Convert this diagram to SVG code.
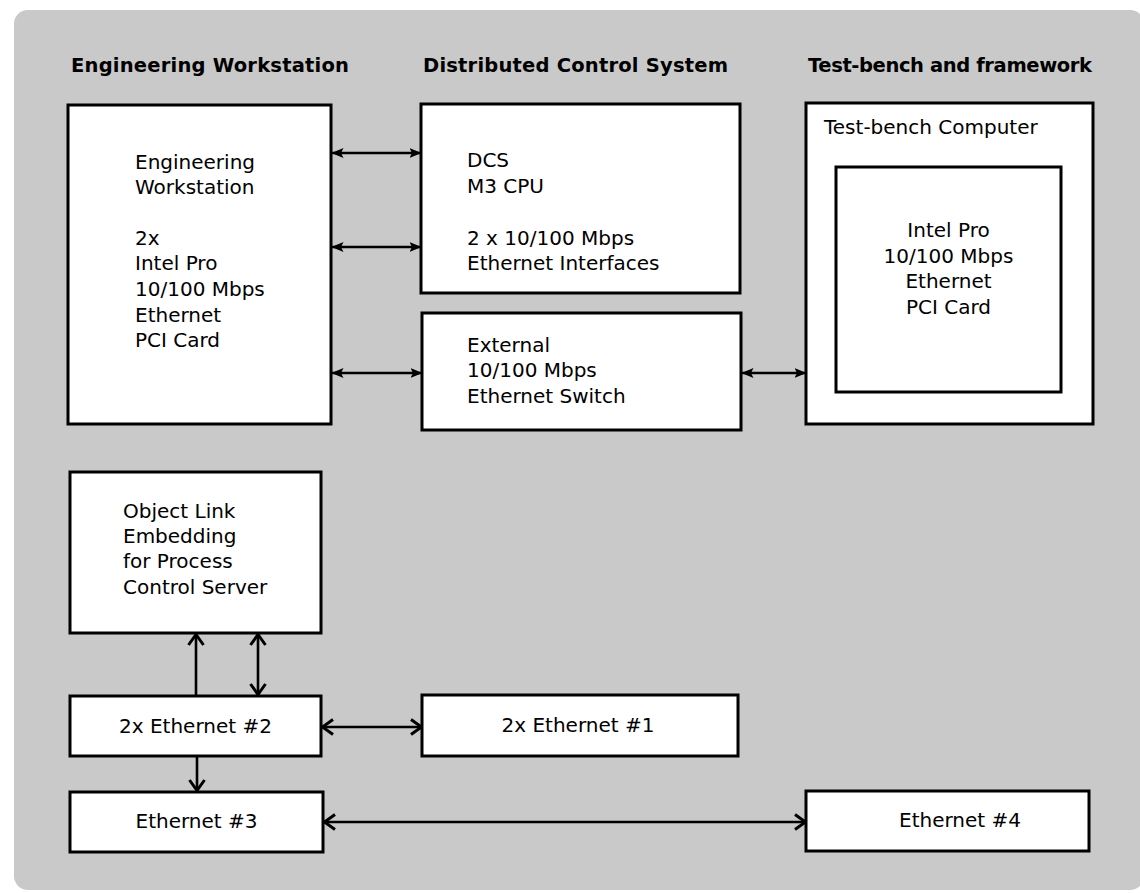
<svg xmlns="http://www.w3.org/2000/svg" width="1140" height="893" viewBox="0 0 1140 893">
<defs>
<style>
.bg{fill:#c9c9c9}
.box{fill:#ffffff;stroke:#000;stroke-width:3}
.hdr{font-family:"DejaVu Sans",Verdana,sans-serif;font-weight:bold;font-size:19.5px;fill:#000}
.t{font-family:"DejaVu Sans",Verdana,sans-serif;font-size:20px;fill:#000}
.c{text-anchor:middle}
.ln{stroke:#000;stroke-width:2.6;fill:none}
.sm{marker-start:url(#ah);marker-end:url(#ah)}
.dv{marker-start:url(#cv);marker-end:url(#cv)}
.ev{marker-end:url(#cv)}
</style>
<marker id="ah" viewBox="0 0 12 12" refX="11.5" refY="6" markerWidth="12" markerHeight="12" markerUnits="userSpaceOnUse" orient="auto-start-reverse">
<path d="M0,1 L12,6 L0,11 L2.5,6 z" fill="#000"/>
</marker>
<marker id="cv" viewBox="0 0 14 18" refX="12.5" refY="9" markerWidth="14" markerHeight="18" markerUnits="userSpaceOnUse" orient="auto-start-reverse">
<path d="M1.5,1.5 L12,9 L1.5,16.5" fill="none" stroke="#000" stroke-width="3"/>
</marker>
</defs>
<rect class="bg" x="14" y="10" width="1130" height="880" rx="14"/>
<g id="headers">
<text class="hdr" x="71" y="72" textLength="278">Engineering Workstation</text>
<text class="hdr" x="423" y="72" textLength="305">Distributed Control System</text>
<text class="hdr" x="808" y="72" textLength="284">Test-bench and framework</text>
</g>
<g id="connectors">
<line class="ln sm" x1="332" y1="153" x2="421" y2="153"/>
<line class="ln sm" x1="332" y1="247" x2="421" y2="247"/>
<line class="ln sm" x1="332" y1="373" x2="422" y2="373"/>
<line class="ln sm" x1="742" y1="373" x2="806" y2="373"/>
<line class="ln ev" x1="196" y1="696" x2="196" y2="634"/>
<line class="ln dv" x1="258" y1="634" x2="258" y2="695"/>
<line class="ln ev" x1="197" y1="756" x2="197" y2="791"/>
<line class="ln dv" x1="322" y1="727" x2="422" y2="727"/>
<line class="ln dv" x1="324" y1="822" x2="806" y2="822"/>
</g>
<g id="engineering-workstation">
<rect class="box" x="68" y="105" width="263" height="319"/>
<text class="t" x="135" y="169">Engineering</text>
<text class="t" x="135" y="194">Workstation</text>
<text class="t" x="135" y="245">2x</text>
<text class="t" x="135" y="270">Intel Pro</text>
<text class="t" x="135" y="296">10/100 Mbps</text>
<text class="t" x="135" y="322">Ethernet</text>
<text class="t" x="135" y="347">PCI Card</text>
</g>
<g id="dcs-cpu">
<rect class="box" x="421" y="104" width="319" height="189"/>
<text class="t" x="467" y="167">DCS</text>
<text class="t" x="467" y="193">M3 CPU</text>
<text class="t" x="467" y="245">2 x 10/100 Mbps</text>
<text class="t" x="467" y="270">Ethernet Interfaces</text>
</g>
<g id="ethernet-switch">
<rect class="box" x="422" y="313" width="319" height="117"/>
<text class="t" x="467" y="352">External</text>
<text class="t" x="467" y="377">10/100 Mbps</text>
<text class="t" x="467" y="403">Ethernet Switch</text>
</g>
<g id="test-bench-computer">
<rect class="box" x="806" y="103" width="287" height="321"/>
<text class="t" x="824" y="134">Test-bench Computer</text>
</g>
<g id="intel-pro-card">
<rect class="box" x="836" y="167" width="225" height="225"/>
<text class="t c" x="948.5" y="237">Intel Pro</text>
<text class="t c" x="948.5" y="263">10/100 Mbps</text>
<text class="t c" x="948.5" y="288">Ethernet</text>
<text class="t c" x="948.5" y="314">PCI Card</text>
</g>
<g id="ole-server">
<rect class="box" x="70" y="472" width="251" height="161"/>
<text class="t" x="123" y="518">Object Link</text>
<text class="t" x="123" y="543">Embedding</text>
<text class="t" x="123" y="568">for Process</text>
<text class="t" x="123" y="594">Control Server</text>
</g>
<g id="ethernet-2">
<rect class="box" x="70" y="696" width="251" height="60"/>
<text class="t c" x="195.5" y="733">2x Ethernet #2</text>
</g>
<g id="ethernet-1">
<rect class="box" x="422" y="695" width="316" height="61"/>
<text class="t c" x="578" y="732">2x Ethernet #1</text>
</g>
<g id="ethernet-3">
<rect class="box" x="70" y="792" width="253" height="60"/>
<text class="t c" x="196.5" y="828">Ethernet #3</text>
</g>
<g id="ethernet-4">
<rect class="box" x="806" y="791" width="283" height="60"/>
<text class="t c" x="960" y="827">Ethernet #4</text>
</g>
</svg>
